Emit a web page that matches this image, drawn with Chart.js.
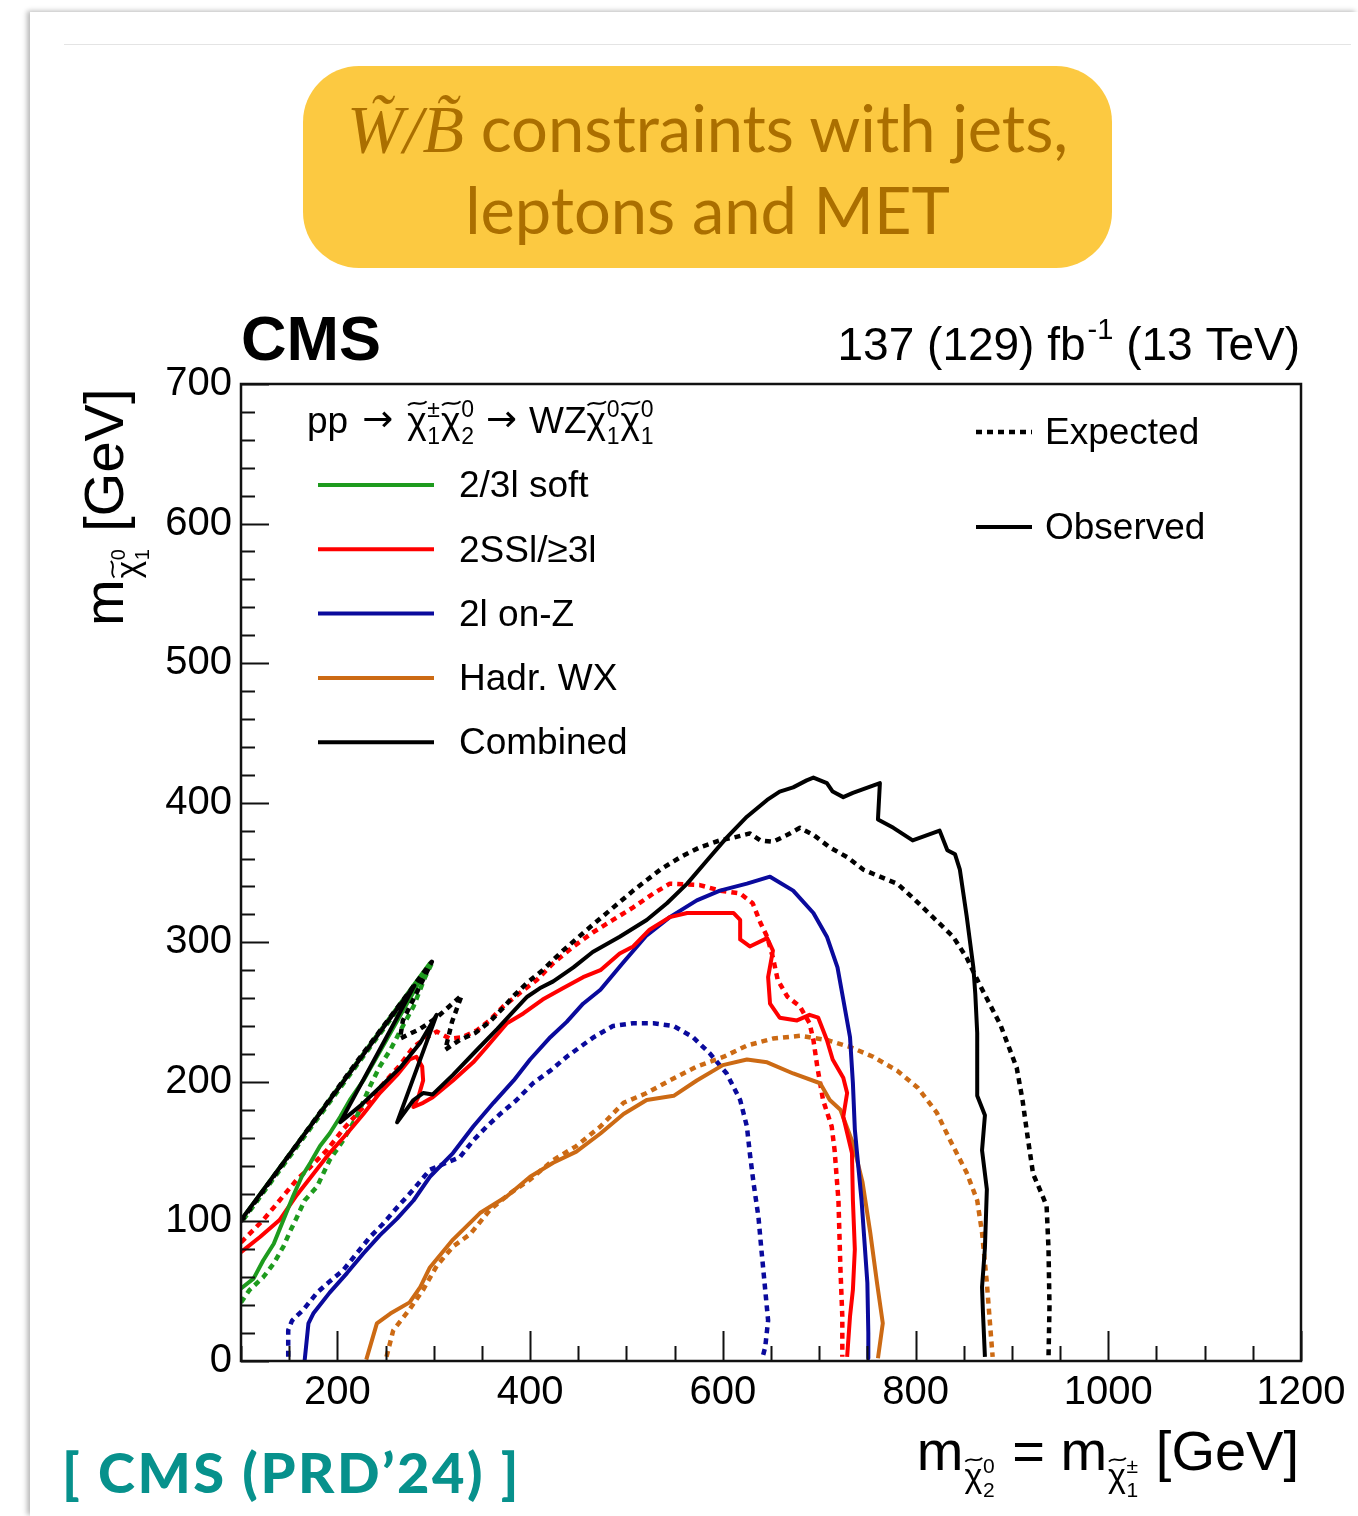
<!DOCTYPE html>
<html>
<head>
<meta charset="utf-8">
<title>W/B constraints</title>
<script src="https://cdn.jsdelivr.net/npm/chart.js"></script>
<style>
  html, body { margin: 0; padding: 0; background: #fff; }
  body { width: 1358px; height: 1516px; position: relative; overflow: hidden; }
  .sheet { position: absolute; left: 30px; top: 12px; right: 0; bottom: 0; background: #fff;
           box-shadow: -3px -1px 5px rgba(0,0,0,0.28); }
  .rule { position: absolute; left: 64px; top: 44px; width: 1287px; height: 1px; background: #e4e4e4; }
  .badge { position: absolute; left: 303px; top: 66px; width: 809px; height: 202px; border-radius: 56px;
           background: #fcc941; color: #ab6f00; text-align: center; font-family: Lato, sans-serif;
           font-size: 65px; line-height: 80px; padding-top: 21px; box-sizing: border-box; }
  .badge i { font-family: "Liberation Serif", serif; font-size: 68px; }
  .ref { position: absolute; left: 62px; top: 1440px; color: #07918c; font-family: Lato, sans-serif;
         font-weight: 900; font-size: 56px; line-height: 64px; letter-spacing: 2.5px; }
  #wrap { position: absolute; left: 0; top: 0; width: 1358px; height: 1516px; }
</style>
</head>
<body>
<div class="sheet"></div>
<div class="rule"></div>
<div class="badge"><i>W̃/B̃</i> constraints with jets,<br>leptons and MET</div>
<div class="ref">[ CMS (PRD’24) ]</div>
<div id="wrap"><canvas id="c" width="1358" height="1516"></canvas></div>

<script>
// exclusion contours, [m(chi2/chi1+), m(chi1)] in GeV
const softObs = [[100,52],[113,59],[123,72],[134,84],[144,101],[154,118],[163,132],[172,142],[182,154],[192,163],
  [203,175],[213,187],[227,201],[241,218],[255,235],[268,251],[282,268],[296,285],[200,195],[100,101]];
const softExp = [[100,42],[109,51],[123,60],[134,70],[144,82],[151,93],[158,103],[166,115],[179,125],[192,144],
  [206,158],[220,175],[234,197],[244,211],[255,223],[268,240],[279,254],[291,275],[298,285],[200,193],[100,99]];

const ssObs = [[100,78],[120,89],[140,101],[158,119],[175,134],[192,149],[210,163],[227,177],[244,192],[262,205],
  [275,216],[282,218],[288,211],[289,201],[284,189],[279,182],[289,185],[299,189],[320,201],[341,214],[355,225],
  [376,242],[393,249],[413,259],[434,267],[455,275],[473,280],[493,292],[507,297],[524,309],[545,318],[563,321],
  [584,321],[611,321],[618,316],[618,302],[628,297],[646,303],[652,294],[647,275],[649,256],[659,246],[677,244],
  [690,248],[699,246],[708,230],[714,216],[725,203],[729,192],[725,175],[734,149],[735,115],[737,80],[735,51],
  [732,32],[729,3]];
const ssExp = [[100,85],[123,101],[140,115],[158,130],[172,139],[189,151],[206,166],[227,182],[247,198],[265,212],
  [279,225],[293,232],[303,236],[317,231],[330,232],[345,237],[358,244],[372,254],[390,264],[407,273],[424,285],
  [445,297],[465,307],[486,316],[507,325],[528,335],[545,342],[576,341],[597,337],[618,335],[631,328],[639,314],
  [646,304],[652,289],[657,273],[667,261],[680,254],[690,242],[694,230],[698,211],[704,187],[713,168],[716,151],
  [720,115],[722,67],[724,32],[724,3]];

const onzObs = [[166,0],[170,27],[175,34],[192,49],[210,63],[227,77],[244,90],[262,102],[279,115],[296,132],
  [320,149],[341,168],[362,185],[383,201],[400,216],[421,232],[438,243],[455,256],[473,266],[496,285],[521,305],
  [545,318],[573,330],[597,337],[625,342],[649,347],[673,337],[694,321],[708,304],[719,282],[725,259],[732,232],
  [735,199],[737,166],[739,151],[744,115],[750,56],[751,20],[751,2]];
const onzExp = [[149,3],[149,22],[153,29],[165,37],[179,49],[192,57],[206,65],[220,77],[234,89],[247,98],
  [262,110],[279,123],[296,137],[313,142],[327,146],[341,158],[355,168],[369,177],[386,187],[403,199],[421,208],
  [438,218],[452,225],[466,232],[486,240],[507,242],[528,242],[549,240],[569,232],[587,220],[604,206],[618,187],
  [625,168],[628,149],[632,127],[637,103],[640,80],[644,51],[647,29],[644,10],[641,2]];

const wxObs = [[230,1],[241,27],[255,34],[275,42],[286,53],[296,67],[320,87],[348,106],[376,118],[400,132],
  [424,142],[448,150],[473,163],[497,177],[521,187],[549,190],[573,201],[600,212],[625,216],[646,214],[673,206],
  [701,199],[711,187],[722,180],[735,156],[745,128],[753,92],[760,56],[766,27],[761,2]];
const wxExp = [[251,3],[258,22],[275,37],[289,51],[303,68],[320,82],[338,91],[358,108],[379,120],[400,130],
  [424,144],[448,154],[473,168],[497,185],[521,192],[545,201],[573,211],[601,218],[625,226],[652,231],[680,233],
  [708,230],[732,225],[756,218],[781,208],[802,196],[822,178],[836,158],[853,135],[864,115],[869,92],[874,56],
  [877,29],[880,3]];

const combObs = [[100,101],[280,269],[203,171],[224,183],[244,196],[265,210],[286,228],[303,248],[262,171],[279,187],
  [289,192],[299,191],[320,205],[345,223],[366,238],[382,250],[397,261],[410,267],[424,272],[445,282],[465,293],
  [493,304],[521,316],[542,328],[563,342],[584,359],[604,375],[625,390],[646,402],[659,408],[673,411],[687,416],
  [694,418],[708,414],[714,408],[725,404],[735,407],[763,414],[761,388],[777,382],[797,373],[825,380],[833,366],
  [841,363],[846,352],[853,319],[860,282],[862,263],[864,235],[864,190],[872,176],[869,151],[874,123],[872,81],
  [869,53],[870,34],[872,3]];
const combExp = [[100,100],[161,158],[224,218],[298,286],[281,262],[268,244],[265,231],[286,238],[303,246],[329,262],
  [319,243],[312,223],[327,230],[343,235],[358,243],[372,253],[382,261],[397,271],[413,280],[434,294],[459,309],
  [483,323],[507,337],[535,352],[556,361],[576,368],[597,373],[611,375],[628,378],[639,373],[652,372],[667,377],
  [680,382],[694,377],[711,368],[729,361],[746,352],[763,347],[781,342],[797,332],[818,318],[839,304],[853,289],
  [867,269],[888,241],[905,210],[911,187],[916,162],[922,134],[932,118],[936,111],[938,80],[939,39],[938,3]];

const analysisNames = ['2/3l soft', '2SSl/≥3l', '2l on-Z', 'Hadr. WX', 'Combined'];
const limitNames = ['Expected', 'Observed'];
const xRange = [100, 1200];
const yRange = [0, 700];

const FONT = '"Liberation Sans", Arial, Helvetica, sans-serif';
const ARROW_FONT = '"DejaVu Sans", sans-serif';

const analyses = [
  { name: analysisNames[0], color: '#1e9b1e', obs: softObs, exp: softExp },
  { name: analysisNames[1], color: '#ff0000', obs: ssObs,   exp: ssExp },
  { name: analysisNames[2], color: '#0a0a9c', obs: onzObs,  exp: onzExp },
  { name: analysisNames[3], color: '#cc6a14', obs: wxObs,   exp: wxExp },
  { name: analysisNames[4], color: '#000000', obs: combObs, exp: combExp }
];

const toXY = pts => pts.map(p => ({ x: p[0], y: p[1] }));

const datasets = [];
analyses.forEach((a, i) => {
  const top = i === analyses.length - 1;
  datasets.push({
    label: a.name + ' ' + limitNames[0], kind: 'exp', data: toXY(a.exp),
    borderColor: a.color, borderWidth: 4.5, borderDash: [6, 5],
    order: top ? 1 : 3
  });
  datasets.push({
    label: a.name + ' ' + limitNames[1], kind: 'obs', name: a.name, data: toXY(a.obs),
    borderColor: a.color, borderWidth: 4,
    order: top ? 0 : 2
  });
});

function tilde(ctx, x0, y, w, lw) {
  const a = w * 0.11;
  ctx.save();
  ctx.lineWidth = lw;
  ctx.beginPath();
  ctx.moveTo(x0, y + a);
  ctx.bezierCurveTo(x0 + w * 0.35, y - 2.4 * a, x0 + w * 0.65, y + 2.4 * a, x0 + w, y - a);
  ctx.stroke();
  ctx.restore();
}

// chi with tilde, superscript charge and subscript index
function chi(ctx, x, base, size, sup, sub) {
  ctx.font = size + 'px ' + FONT;
  ctx.fillText('χ', x, base);
  const w = ctx.measureText('χ').width;
  tilde(ctx, x + w * 0.05, base - size * 0.8, w * 0.95, Math.max(1.4, size * 0.055));
  const small = Math.round(size * 0.62);
  ctx.font = small + 'px ' + FONT;
  const x2 = x + w + size * 0.02;
  ctx.fillText(sup, x2, base - size * 0.42);
  ctx.fillText(sub, x2, base + size * 0.3);
  return x2 + Math.max(ctx.measureText(sup).width, ctx.measureText(sub).width);
}

function put(ctx, s, x, base, font) {
  ctx.font = font;
  ctx.fillText(s, x, base);
  return x + ctx.measureText(s).width;
}

// "m_chi20 = m_chi1+ [GeV]" starting at x, returns the end position
function xTitle(ctx, x, base) {
  const tf = '56px ' + FONT;
  let tx = put(ctx, 'm', x, base, tf);
  tx = chi(ctx, tx + 1, base + 17, 34, '0', '2');
  tx = put(ctx, ' = m', tx + 2, base, tf);
  tx = chi(ctx, tx + 1, base + 17, 34, '±', '1');
  return put(ctx, ' [GeV]', tx + 2, base, tf);
}

// inward ROOT-style ticks and the frame
const frameTicks = {
  id: 'frameTicks',
  afterDatasetsDraw(chart) {
    const { ctx, chartArea: a, scales: { x, y } } = chart;
    ctx.save();
    ctx.strokeStyle = '#111';
    ctx.lineWidth = 2;
    ctx.beginPath();
    x.ticks.forEach(t => {
      const px = Math.round(x.getPixelForValue(t.value)) + 0.5;
      const len = t.value % 200 === 0 ? 30 : 15;
      ctx.moveTo(px, a.bottom);
      ctx.lineTo(px, a.bottom - len);
    });
    y.ticks.forEach(t => {
      const py = Math.round(y.getPixelForValue(t.value)) + 0.5;
      const len = t.value % 100 === 0 ? 28 : 14;
      ctx.moveTo(a.left, py);
      ctx.lineTo(a.left + len, py);
    });
    ctx.stroke();
    ctx.lineWidth = 2.5;
    ctx.strokeRect(a.left, a.top, a.right - a.left, a.bottom - a.top);
    ctx.restore();
  }
};

// labels, axis titles and the two legends
const annotations = {
  id: 'annotations',
  afterDraw(chart) {
    const { ctx, chartArea: a } = chart;
    ctx.save();
    ctx.fillStyle = '#000';
    ctx.strokeStyle = '#000';
    ctx.textBaseline = 'alphabetic';
    ctx.textAlign = 'left';

    put(ctx, 'CMS', a.left, 360, 'bold 63px ' + FONT);

    // luminosity, right aligned to the frame
    const big = '46px ' + FONT, sm = '29px ' + FONT;
    ctx.font = big; const w1 = ctx.measureText('137 (129) fb').width;
    const w3 = ctx.measureText(' (13 TeV)').width;
    ctx.font = sm; const w2 = ctx.measureText('-1').width;
    let lx = a.right - 1 - (w1 + w2 + w3 + 2);
    lx = put(ctx, '137 (129) fb', lx, 360, big);
    lx = put(ctx, '-1', lx + 2, 339, sm);
    put(ctx, ' (13 TeV)', lx, 360, big);

    // x title, right aligned to the frame
    ctx.save();
    ctx.globalAlpha = 0;
    const xEnd = xTitle(ctx, 0, 1470);
    ctx.restore();
    xTitle(ctx, a.right - 2 - xEnd, 1470);

    // y title, rotated
    const tf = '56px ' + FONT;
    ctx.save();
    ctx.translate(123, 626);
    ctx.rotate(-Math.PI / 2);
    let ty = put(ctx, 'm', 0, 0, tf);
    ty = chi(ctx, ty + 1, 16, 33, '0', '1');
    put(ctx, ' [GeV]', ty + 2, 0, tf);
    ctx.restore();

    // process header
    const hf = '37px ' + FONT, af = '37px ' + ARROW_FONT;
    let hx = put(ctx, 'pp', 307, 433, hf);
    hx = put(ctx, '→', hx + 14, 431, af);
    hx = chi(ctx, hx + 14, 433, 37, '±', '1');
    hx = chi(ctx, hx + 1, 433, 37, '0', '2');
    hx = put(ctx, '→', hx + 12, 431, af);
    hx = put(ctx, 'WZ', hx + 12, 433, hf);
    hx = chi(ctx, hx, 433, 37, '0', '1');
    chi(ctx, hx + 1, 433, 37, '0', '1');

    // analysis legend
    ctx.textBaseline = 'middle';
    ctx.font = hf;
    const obsSets = chart.data.datasets.filter(d => d.kind === 'obs');
    obsSets.forEach((d, i) => {
      const ly = 485 + i * 64.3;
      ctx.strokeStyle = d.borderColor;
      ctx.lineWidth = 4;
      ctx.beginPath();
      ctx.moveTo(318, ly);
      ctx.lineTo(434, ly);
      ctx.stroke();
      ctx.fillText(d.name, 459, ly + 2);
    });

    // expected / observed legend
    const comb = chart.data.datasets.filter(d => d.borderColor === '#000000');
    [comb[0], comb[1]].forEach((d, i) => {
      const ly = 432 + i * 95;
      ctx.strokeStyle = '#000';
      ctx.lineWidth = d.kind === 'exp' ? 4.5 : 4;
      ctx.setLineDash(d.kind === 'exp' ? [6, 5] : []);
      ctx.beginPath();
      ctx.moveTo(976, ly);
      ctx.lineTo(1032, ly);
      ctx.stroke();
      ctx.setLineDash([]);
      ctx.fillText(limitNames[i], 1045, ly + 2);
    });
    ctx.restore();
  }
};

new Chart(document.getElementById('c'), {
  type: 'scatter',
  data: { datasets },
  options: {
    responsive: false,
    devicePixelRatio: 1,
    animation: false,
    layout: { padding: { left: 150, right: 57, top: 384, bottom: 100 } },
    elements: {
      point: { radius: 0, hoverRadius: 0 },
      line: { tension: 0, fill: false, borderCapStyle: 'butt', borderJoinStyle: 'round' }
    },
    datasets: { scatter: { showLine: true } },
    plugins: { legend: { display: false }, tooltip: { enabled: false } },
    scales: {
      x: {
        type: 'linear', min: xRange[0], max: xRange[1],
        grid: { display: false, drawTicks: false }, border: { display: false },
        ticks: {
          stepSize: 50, autoSkip: false, maxRotation: 0, padding: 8, color: '#000',
          font: { family: FONT, size: 40 },
          callback: v => (v % 200 === 0 ? String(v) : '')
        },
        afterFit: s => { s.height = 55; }
      },
      y: {
        type: 'linear', min: yRange[0], max: yRange[1],
        grid: { display: false, drawTicks: false }, border: { display: false },
        ticks: {
          stepSize: 20, autoSkip: false, padding: 9, color: '#000',
          font: { family: FONT, size: 40 },
          callback: v => (v % 100 === 0 ? String(v) : '')
        },
        afterFit: s => { s.width = 91; }
      }
    }
  },
  plugins: [frameTicks, annotations]
});
</script>
</body>
</html>
